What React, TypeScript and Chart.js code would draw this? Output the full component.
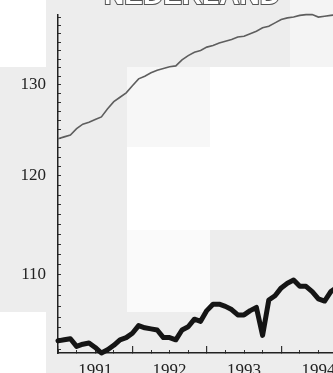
import React, { useEffect, useRef } from "react";
import { Chart, registerables } from "chart.js";

Chart.register(...registerables);

// ---- data ----
const startYear = 1991;
const monthsShown = 60;
const yearLabels = ["1991", "1992", "1993", "1994", "1995"];
const yLabelValues = [110, 120, 130];
const yMinorFrom = 103;
const yMinorTo = 138;
const titleText = "NEDERLAND";

// thin grey series (monthly from Jan 1991)
const thinSeries = [
  124.0, 124.2, 124.4, 125.1, 125.6, 125.8, 126.1, 126.4, 127.3, 128.1, 128.6, 129.1,
  129.9, 130.7, 131.0, 131.4, 131.7, 131.9, 132.1, 132.2, 132.9, 133.4, 133.8, 134.0,
  134.4, 134.6, 134.9, 135.1, 135.3, 135.6, 135.7, 136.0, 136.3, 136.7, 136.9, 137.3,
  137.7, 137.9, 138.0, 138.2, 138.3, 138.3, 138.0, 138.1, 138.2, 138.3,
];
// thick black series (monthly from Jan 1991)
const thickSeries = [
  103.8, 103.9, 104.0, 103.3, 103.5, 103.6, 103.2, 102.7, 103.0, 103.4, 103.9, 104.1,
  104.5, 105.2, 105.0, 104.9, 104.8, 104.1, 104.1, 103.9, 104.8, 105.1, 105.8, 105.6,
  106.6, 107.2, 107.2, 107.0, 106.7, 106.2, 106.2, 106.6, 106.9, 104.3, 107.6, 108.0,
  108.75, 109.2, 109.5, 108.9, 108.9, 108.4, 107.7, 107.5, 108.4, 108.8,
];

// ---- layout constants ----
const OFFSET = 20; // canvas is shifted up so that the title is mostly cut off
const CW = 440;
const CH = 403;

const bgPlugin = {
  id: "bgPatches",
  beforeDraw(chart: any) {
    const ctx = chart.ctx;
    ctx.save();
    ctx.fillStyle = "#ededed";
    ctx.fillRect(0, 0, CW, CH);
    const rects: [number, number, number, number, string][] = [
      [0, 0, 46, 67, "#ffffff"],
      [290, 0, 150, 67, "#f4f4f4"],
      [127, 67, 83, 80, "#f7f7f7"],
      [210, 67, 230, 80, "#ffffff"],
      [127, 147, 313, 83, "#ffffff"],
      [127, 230, 83, 82, "#fafafa"],
      [0, 312, 46, 80, "#ffffff"],
    ];
    for (const [x, y, w, h, c] of rects) {
      ctx.fillStyle = c;
      ctx.fillRect(x, y + OFFSET, w, h);
    }
    ctx.restore();
  },
  afterDraw(chart: any) {
    const ctx = chart.ctx;
    ctx.save();
    ctx.font = 'bold 28px "Liberation Sans", Arial, sans-serif';
    ctx.textAlign = "center";
    ctx.textBaseline = "alphabetic";
    ctx.lineWidth = 2;
    ctx.strokeStyle = "#555";
    ctx.fillStyle = "#ffffff";
    ctx.strokeText(titleText, 192, OFFSET + 4);
    ctx.fillText(titleText, 192, OFFSET + 4);
    ctx.restore();
  },
};

export default function App() {
  const ref = useRef<HTMLCanvasElement | null>(null);

  useEffect(() => {
    if (!ref.current) return;
    const thin = thinSeries.map((v, i) => ({ x: i, y: v }));
    const thick = thickSeries.map((v, i) => ({ x: i, y: v }));

    const chart = new Chart(ref.current, {
      type: "line",
      data: {
        datasets: [
          {
            data: thin,
            borderColor: "#5e5e5e",
            borderWidth: 1.6,
            pointRadius: 0,
            tension: 0,
            clip: false as any,
            xAxisID: "x",
            yAxisID: "y",
          },
          {
            data: thick,
            borderColor: "#151515",
            borderWidth: 5,
            pointRadius: 0,
            tension: 0,
            borderJoinStyle: "round",
            borderCapStyle: "round",
            clip: false as any,
            xAxisID: "x",
            yAxisID: "y",
          },
        ],
      },
      options: {
        animation: false,
        responsive: false,
        maintainAspectRatio: false,
        layout: { padding: { top: 15 + OFFSET, right: CW - 58 - 375, bottom: 0, left: 0 } },
        plugins: { legend: { display: false }, tooltip: { enabled: false }, title: { display: false } },
        scales: {
          y: {
            type: "logarithmic",
            position: "left",
            min: 102.7,
            max: 138.25,
            afterBuildTicks: (s: any) => {
              const t = [];
              for (let v = yMinorFrom; v <= yMinorTo; v++) t.push({ value: v });
              s.ticks = t;
            },
            afterFit: (s: any) => {
              s.width = 58;
            },
            border: { display: true, color: "#222", width: 1.5 },
            grid: { display: true, drawOnChartArea: false, drawTicks: true, tickLength: -3, color: "#333" },
            ticks: {
              autoSkip: false,
              padding: 15,
              color: "#222",
              font: { family: '"Liberation Serif", "Times New Roman", serif', size: 17 },
              callback: (v: any) => (yLabelValues.includes(Number(v)) ? String(v) : ""),
            },
          },
          x: {
            type: "linear",
            position: "bottom",
            weight: 1,
            min: 0,
            max: monthsShown,
            afterBuildTicks: (s: any) => {
              const t = [];
              for (let v = 0; v <= monthsShown; v += 3) t.push({ value: v });
              s.ticks = t;
            },
            afterFit: (s: any) => {
              s.height = CH - (15 + OFFSET) - 338;
            },
            border: { display: true, color: "#222", width: 1.5 },
            grid: { display: true, drawOnChartArea: false, drawTicks: true, tickLength: -3, color: "#333" },
            ticks: {
              autoSkip: false,
              maxRotation: 0,
              padding: 10,
              color: "#222",
              font: { family: '"Liberation Serif", "Times New Roman", serif', size: 17 },
              callback: (v: any) => {
                const n = Number(v);
                return n % 12 === 6 ? yearLabels[Math.floor(n / 12)] ?? String(startYear + Math.floor(n / 12)) : "";
              },
            },
          },
          x2: {
            type: "linear",
            axis: "x",
            position: "bottom",
            weight: 0,
            min: 0,
            max: monthsShown,
            afterBuildTicks: (s: any) => {
              const t = [];
              for (let v = 0; v <= monthsShown; v += 12) t.push({ value: v });
              s.ticks = t;
            },
            afterFit: (s: any) => {
              s.height = 0;
            },
            border: { display: false },
            grid: { display: true, drawOnChartArea: false, drawTicks: true, tickLength: -7, color: "#333", lineWidth: 1.2 },
            ticks: { display: false, autoSkip: false },
          },
        } as any,
      },
      plugins: [bgPlugin],
    } as any);
    return () => chart.destroy();
  }, []);

  return (
    <div
      style={{
        position: "fixed",
        left: 0,
        top: 0,
        width: 333,
        height: 373,
        overflow: "hidden",
        background: "#fff",
      }}
    >
      <canvas
        ref={ref}
        width={CW}
        height={CH}
        style={{ position: "absolute", left: 0, top: -OFFSET, width: CW, height: CH }}
      />
    </div>
  );
}
